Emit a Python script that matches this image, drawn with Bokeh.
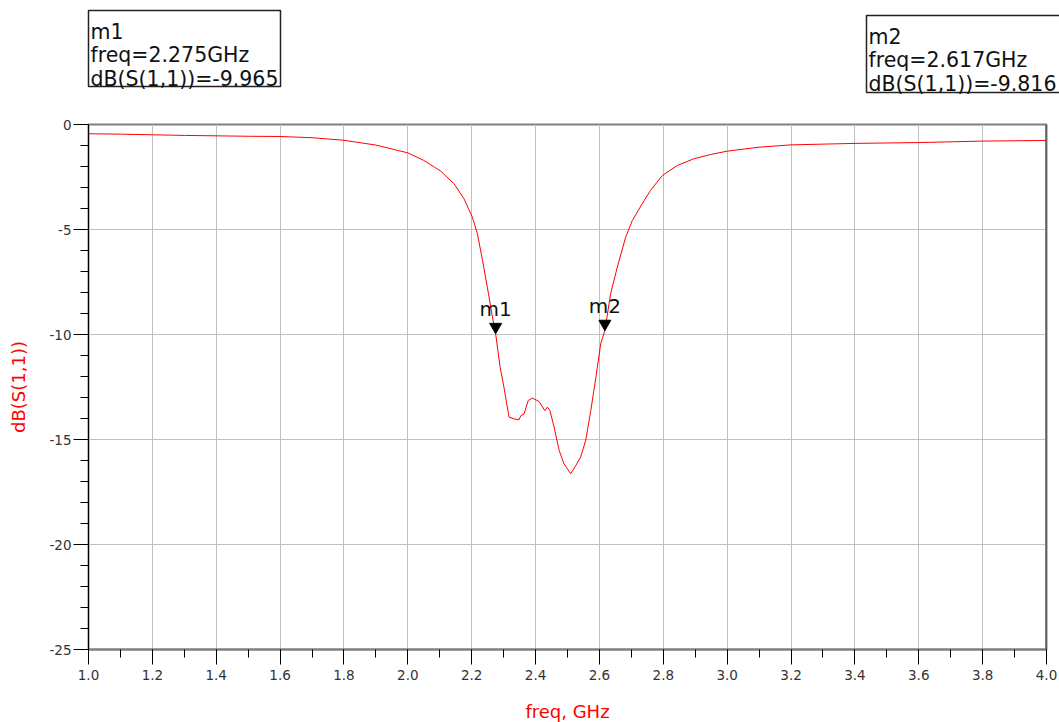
from bokeh.plotting import figure
from bokeh.layouts import column
from bokeh.models import FixedTicker, PrintfTickFormatter, Span
from bokeh.core.properties import value
from bokeh.embed import file_html
from bokeh.resources import INLINE

# ---- data ----
freq_ghz = [1.0, 1.1, 1.2, 1.3, 1.4, 1.5, 1.6, 1.7, 1.8, 1.9, 2.0, 2.05, 2.103, 2.145,
            2.176, 2.202, 2.218, 2.234, 2.249, 2.265, 2.275, 2.289, 2.301, 2.317, 2.333,
            2.348, 2.354, 2.364, 2.377, 2.390, 2.411, 2.429, 2.437, 2.445, 2.458, 2.474,
            2.489, 2.510, 2.526, 2.541, 2.557, 2.573, 2.589, 2.604, 2.617, 2.635, 2.656,
            2.682, 2.703, 2.740, 2.760, 2.797, 2.844, 2.896, 2.948, 3.0, 3.1, 3.2, 3.4,
            3.6, 3.8, 4.0]
s11_db = [-0.44, -0.46, -0.49, -0.52, -0.54, -0.56, -0.57, -0.63, -0.75, -0.98, -1.35,
          -1.71, -2.22, -2.83, -3.54, -4.41, -5.21, -6.48, -7.75, -9.17, -9.965, -11.56,
          -12.51, -13.94, -14.02, -14.06, -13.86, -13.78, -13.14, -13.03, -13.19, -13.62,
          -13.46, -13.62, -14.41, -15.52, -16.16, -16.63, -16.24, -15.84, -15.05, -13.62,
          -12.03, -10.44, -9.816, -8.06, -6.79, -5.37, -4.57, -3.62, -3.14, -2.43, -1.95,
          -1.63, -1.43, -1.27, -1.08, -0.97, -0.90, -0.86, -0.79, -0.76]

marker_names = ["m1", "m2"]
marker_freq = [2.275, 2.617]
marker_db = [-9.965, -9.816]

x_ticks = [1.0, 1.2, 1.4, 1.6, 1.8, 2.0, 2.2, 2.4, 2.6, 2.8, 3.0, 3.2, 3.4, 3.6, 3.8, 4.0]
x_minor = [round(1.0 + 0.1 * i, 1) for i in range(31)]
y_ticks = [0, -5, -10, -15, -20, -25]
y_minor = list(range(0, -26, -1))

FONT = "DejaVu Sans"
TOTAL_W = 1059
HEADER_H = 114
FRAME_W = 958
FRAME_H = 525
Y_SPAN = 25.0

# ---------------- header with the marker readout boxes ----------------
hdr = figure(width=TOTAL_W, height=HEADER_H, x_range=(0, TOTAL_W), y_range=(HEADER_H, 0),
             min_border=0, x_axis_type=None, y_axis_type=None, toolbar_location=None,
             output_backend="svg", outline_line_color=None, background_fill_color="white",
             border_fill_color="white")
hdr.frame_align = False
hdr.grid.visible = False

# box geometry in header pixels (left, top, right, bottom)
box_left = [88, 866]
box_top = [10, 15]
box_right = [280, 1064]
box_bottom = [86, 92]
hdr.quad(left=box_left, right=box_right, top=box_top, bottom=box_bottom,
         fill_color="white", line_color="#222222", line_width=1.5)

line_gap = 23.5
first_base = 21
for name, f, d, bl, bt in zip(marker_names, marker_freq, marker_db, box_left, box_top):
    lines = [name, f"freq={f:.3f}GHz", f"dB(S(1,1))={d:.3f}"]
    hdr.text(x=[bl + 2] * 3, y=[bt + first_base + i * line_gap for i in range(3)],
             text=lines, text_align="left", text_baseline="alphabetic",
             text_font=value(FONT), text_font_size="20.5px", text_color="#111111")

# ---------------- main chart ----------------
p = figure(frame_width=FRAME_W, frame_height=FRAME_H, min_border_left=88, min_border_right=13,
           min_border_top=124 - HEADER_H, min_border_bottom=70,
           x_range=(1.0, 4.0), y_range=(-25, 0),
           output_backend="svg", toolbar_location=None, background_fill_color="white",
           border_fill_color="white")
p.frame_align = False

p.outline_line_color = "#7f7f7f"
p.outline_line_width = 2

p.xaxis.ticker = FixedTicker(ticks=x_ticks, minor_ticks=x_minor)
p.yaxis.ticker = FixedTicker(ticks=y_ticks, minor_ticks=y_minor)
p.xaxis.formatter = PrintfTickFormatter(format="%.1f")
p.yaxis.formatter = PrintfTickFormatter(format="%d")

for ax in (p.xaxis, p.yaxis):
    ax.major_tick_out = 15
    ax.major_tick_in = 0
    ax.minor_tick_out = 8
    ax.minor_tick_in = 0
    ax.major_tick_line_color = "black"
    ax.minor_tick_line_color = "black"
    ax.major_label_text_font = FONT
    ax.major_label_text_font_size = "13.5px"
    ax.major_label_text_color = "#333333"
    ax.axis_label_text_font = FONT
    ax.axis_label_text_font_size = "18px"
    ax.axis_label_text_font_style = "normal"
    ax.axis_label_text_color = "red"

p.xaxis.axis_label = "freq, GHz"
p.yaxis.axis_label = "dB(S(1,1))"
p.xaxis.axis_line_color = "#7f7f7f"
p.xaxis.axis_line_width = 2
p.yaxis.axis_line_color = "black"
p.yaxis.axis_line_width = 1
p.xaxis.major_label_standoff = 5
p.yaxis.major_label_standoff = 2
p.xaxis.axis_label_standoff = 18
p.yaxis.axis_label_standoff = 17

p.xgrid.ticker = FixedTicker(ticks=x_ticks)
p.ygrid.ticker = FixedTicker(ticks=y_ticks)
p.grid.grid_line_color = "#c0c0c0"
p.grid.grid_line_width = 1

p.add_layout(Span(location=4.0, dimension="height", line_color="#404040", line_width=2))

p.line(freq_ghz, s11_db, line_color="red", line_width=1.0)

# markers: inverted triangles whose tip sits on the data point
tri_size = 12
tip_offset_px = 2.0 / 3.0 * (tri_size / 2.0) * 3 ** 0.5
tip_offset_db = tip_offset_px * Y_SPAN / FRAME_H
p.scatter(marker_freq, [d + tip_offset_db for d in marker_db],
          marker="inverted_triangle", size=tri_size, fill_color="black", line_color="black")
p.text(marker_freq, marker_db, text=marker_names, text_align="center",
       text_baseline="alphabetic", y_offset=-25, text_font=value(FONT),
       text_font_size="20px", text_color="#111111")

layout = column(hdr, p, spacing=0)
open("out.html", "w").write(file_html(layout, INLINE))
